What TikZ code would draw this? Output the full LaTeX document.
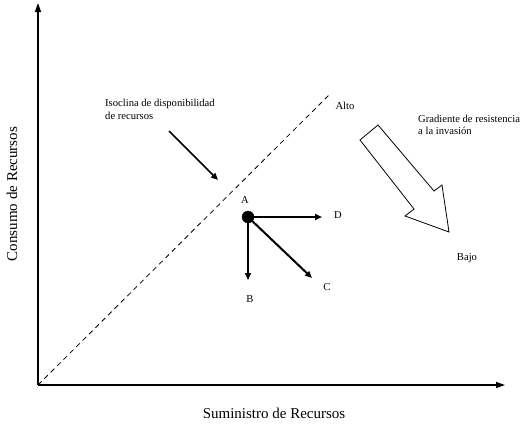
\documentclass[tikz,border=0pt]{standalone}
\usepackage{fontspec}
\setmainfont{Liberation Serif}
\usetikzlibrary{arrows.meta,positioning}

\begin{document}
\begin{tikzpicture}[x=1pt,y=-1pt,
    axis/.style={line width=1.3pt,-{Triangle[length=9pt,width=6pt]}},
    vec/.style={line width=2pt,-{Triangle[length=7pt,width=6pt]}},
    lbl/.style={font=\fontsize{10.6}{12.5}\selectfont,inner sep=1pt},
    axlbl/.style={font=\fontsize{15}{17}\selectfont,inner sep=1pt}]
  \useasboundingbox (0,0) rectangle (530,424);
  % axes
  \coordinate (O) at (38,385);
  \coordinate (xend) at (505,385);
  \coordinate (yend) at (38,3);
  \draw[axis] (O) -- (xend);
  \draw[axis] (O) -- (yend);
  \node[axlbl] (xlab) at (274,413) {Suministro de Recursos};
  \node[axlbl,rotate=90] (ylab) at (12,194) {Consumo de Recursos};
  % isocline
  \coordinate (iso) at (330,94);
  \draw[dashed,line width=0.8pt,dash pattern=on 5pt off 4pt] (O) -- (iso);
  \node[lbl,anchor=north west,align=left] (isolab) at (104,98)
    {Isoclina de disponibilidad\\de recursos};
  \coordinate (isotip) at (218,180);
  \draw[line width=1.6pt,-{Triangle[length=7pt,width=6pt]}] (169,131) -- (isotip);
  % vectors from A
  \coordinate (A) at (248,217);
  \node[lbl] (Alab) at (245,200) {A};
  \node[lbl] (Blab) at (250,299) {B};
  \node[lbl] (Clab) at (327,287) {C};
  \node[lbl] (Dlab) at (338,215) {D};
  \coordinate (Bend) at (248,280);
  \coordinate (Cend) at (312,278);
  \coordinate (Dend) at (322,217);
  \draw[vec] (A) -- (Dend);
  \draw[vec] (A) -- (Bend);
  \draw[vec] (A) -- (Cend);
  \filldraw[black] (A) circle (6pt);
  % gradient
  \node[lbl] (alto) at (345,106) {Alto};
  \node[lbl] (bajo) at (467,258) {Bajo};
  \node[lbl,anchor=west,align=left] (gradlab) at (417,125)
    {Gradiente de resistencia\\a la invasión};
  \draw[line width=0.8pt,line join=miter,fill=white]
    (378,125) -- (434,191) -- (442,185) -- (449,232) -- (405,216)
    -- (414,209) -- (360,140) -- cycle;
\end{tikzpicture}
\end{document}
